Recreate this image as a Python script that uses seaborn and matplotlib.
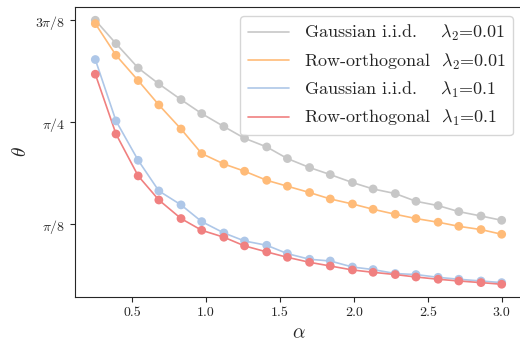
import numpy as np
import pandas as pd
import matplotlib
matplotlib.use('Agg')
import matplotlib.pyplot as plt
import seaborn as sns

# sample ratio alpha
alpha = [0.25, 0.39, 0.54, 0.68, 0.83, 0.97, 1.12, 1.26, 1.41, 1.55,
         1.70, 1.84, 1.99, 2.13, 2.28, 2.42, 2.57, 2.71, 2.86, 3.00]

gauss_l2 = [3.000, 2.771, 2.532, 2.376, 2.222, 2.085, 1.958, 1.843, 1.758, 1.644,
            1.556, 1.487, 1.409, 1.346, 1.301, 1.225, 1.183, 1.124, 1.081, 1.039]
row_l2 = [2.967, 2.657, 2.409, 2.170, 1.934, 1.693, 1.591, 1.520, 1.431, 1.373,
          1.311, 1.248, 1.199, 1.147, 1.098, 1.056, 1.020, 0.980, 0.948, 0.902]
gauss_l1 = [2.615, 2.013, 1.627, 1.327, 1.190, 1.026, 0.915, 0.836, 0.794, 0.712,
            0.657, 0.640, 0.581, 0.556, 0.517, 0.507, 0.480, 0.461, 0.444, 0.428]
row_l1 = [2.471, 1.885, 1.474, 1.238, 1.056, 0.941, 0.873, 0.788, 0.729, 0.676,
          0.627, 0.591, 0.552, 0.529, 0.507, 0.483, 0.461, 0.444, 0.428, 0.412]

labels = [r'Gaussian i.i.d.    $\lambda_2$=0.01',
          r'Row-orthogonal  $\lambda_2$=0.01',
          r'Gaussian i.i.d.    $\lambda_1$=0.1',
          r'Row-orthogonal  $\lambda_1$=0.1']
colors = ['#c7c7c7', '#ffbb78', '#aec7e8', '#f08080']

sns.set_style('ticks')
plt.rcParams['font.family'] = 'serif'
plt.rcParams['font.serif'] = ['cmr10']
plt.rcParams['mathtext.fontset'] = 'cm'
plt.rcParams['axes.formatter.use_mathtext'] = True

frames = []
for lab, vals in zip(labels, [gauss_l2, row_l2, gauss_l1, row_l1]):
    frames.append(pd.DataFrame({'alpha': alpha,
                                'theta': np.array(vals) * np.pi / 8,
                                'series': lab}))
df = pd.concat(frames)

fig = plt.figure(figsize=(5.2, 3.41), dpi=100)
ax = fig.add_axes([75 / 520, 1 - 297 / 341, 447 / 520, 290 / 341])

sns.lineplot(data=df, x='alpha', y='theta', hue='series', palette=colors,
             linewidth=1.2, ax=ax)
sns.scatterplot(data=df, x='alpha', y='theta', hue='series', palette=colors,
                s=40, linewidth=0, legend=False, ax=ax, zorder=3)

ax.set_ylim(0.287 * np.pi / 8, 3.13 * np.pi / 8)
ax.set_yticks([np.pi / 8, np.pi / 4, 3 * np.pi / 8])
ax.set_yticklabels([r'$\pi/8$', r'$\pi/4$', r'$3\pi/8$'])
ax.set_xticks([0.5, 1.0, 1.5, 2.0, 2.5, 3.0])
ax.set_xticklabels(['0.5', '1.0', '1.5', '2.0', '2.5', '3.0'])
ax.tick_params(labelsize=10)
ax.set_xlabel(r'$\alpha$', fontsize=14)
ax.set_ylabel(r'$\theta$', fontsize=14)

ax.legend(loc='upper right', fontsize=13, handlelength=2.3,
          labelspacing=0.45, frameon=True, borderaxespad=0.5)

fig.savefig('out.png', dpi=100)
